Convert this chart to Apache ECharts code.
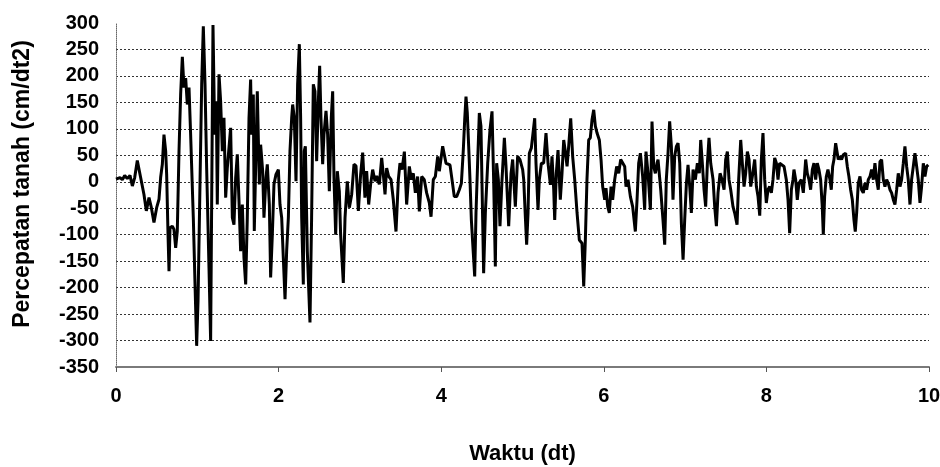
<!DOCTYPE html>
<html>
<head>
<meta charset="utf-8">
<script src="https://cdn.jsdelivr.net/npm/echarts@6/dist/echarts.min.js"></script>
<style>
  html, body { margin: 0; padding: 0; background: #fff; }
  #chart { width: 940px; height: 467px; }
</style>
</head>
<body>
<div id="chart"></div>
<script>
// waktu (dt), one line per stretch of the record
var waktu = [
  0, 0.016, 0.049, 0.078, 0.107, 0.139, 0.172, 0.201, 0.23, 0.262, 0.303, 0.344, 0.373, 0.406, 0.435, 0.467, 0.5, 0.529, 0.549, 0.57, 0.59, 0.611, 0.623, 0.64, 0.652, 0.664, 0.693, 0.713, 0.734, 0.754, 0.775, 0.795, 0.816, 0.836, 0.857, 0.877, 0.898, 0.918, 0.951, 0.972, 0.992, 1.009, 1.033, 1.054, 1.074, 1.095, 1.115, 1.144, 1.164, 1.193, 1.214, 1.234, 1.246, 1.267, 1.287, 1.308, 1.328, 1.349, 1.369, 1.41, 1.431, 1.451, 1.472, 1.492, 1.513, 1.533, 1.554, 1.574, 1.595, 1.615, 1.636, 1.656,
  1.668, 1.689, 1.701, 1.722, 1.738, 1.763, 1.779, 1.804, 1.82, 1.845, 1.861, 1.886, 1.902, 1.923, 1.943, 1.968, 1.997, 2.017, 2.038, 2.058, 2.079, 2.099, 2.12, 2.14, 2.161, 2.173, 2.193, 2.214, 2.234, 2.255, 2.271, 2.284, 2.304, 2.316, 2.329, 2.353, 2.386, 2.406, 2.427, 2.447, 2.468, 2.489, 2.505, 2.521, 2.542, 2.558, 2.583, 2.603, 2.624, 2.648, 2.665, 2.681, 2.702, 2.722, 2.747, 2.763, 2.796, 2.817, 2.845, 2.87, 2.899, 2.927, 2.952, 2.981, 3.009, 3.034, 3.062, 3.083, 3.108, 3.132, 3.157, 3.186, 3.206, 3.239, 3.268, 3.288, 3.309, 3.329,
  3.354, 3.383, 3.411, 3.444, 3.473, 3.493, 3.518, 3.547, 3.575, 3.608, 3.633, 3.657, 3.682, 3.71, 3.731, 3.76, 3.792, 3.821, 3.854, 3.875, 3.903, 3.928, 3.957, 3.977, 3.998, 4.018, 4.039, 4.059, 4.08, 4.108, 4.133, 4.161, 4.19, 4.223, 4.248, 4.272, 4.289, 4.305, 4.321, 4.338, 4.354, 4.371, 4.395, 4.412, 4.428, 4.448, 4.469, 4.489, 4.51, 4.522, 4.543, 4.572, 4.6, 4.625, 4.645, 4.666, 4.682, 4.703, 4.723, 4.748, 4.777, 4.797, 4.83, 4.859, 4.879, 4.912, 4.94, 4.969, 5.002,
  5.015, 5.035, 5.051, 5.068, 5.084, 5.109, 5.129, 5.15, 5.166, 5.191, 5.207, 5.232, 5.26, 5.289, 5.314, 5.343, 5.363, 5.384, 5.396, 5.416, 5.437, 5.465, 5.486, 5.507, 5.527, 5.548, 5.568, 5.593, 5.617, 5.642, 5.671, 5.699, 5.732, 5.753, 5.773, 5.793, 5.814, 5.834, 5.855, 5.876, 5.896, 5.917, 5.945, 5.966, 5.986, 6.011, 6.027, 6.048, 6.068, 6.089, 6.109, 6.134, 6.158, 6.183, 6.208, 6.232, 6.257, 6.273, 6.298, 6.327, 6.355, 6.388, 6.409, 6.429, 6.45, 6.478, 6.503, 6.519, 6.544, 6.573, 6.593, 6.614, 6.634, 6.655,
  6.667, 6.7, 6.728, 6.749, 6.769, 6.79, 6.81, 6.831, 6.851, 6.872, 6.893, 6.913, 6.934, 6.954, 6.975, 6.995, 7.016, 7.036, 7.057, 7.077, 7.098, 7.126, 7.151, 7.175, 7.192, 7.212, 7.233, 7.253, 7.274, 7.294, 7.315, 7.344, 7.364, 7.385, 7.405, 7.43, 7.454, 7.479, 7.499, 7.52, 7.54, 7.561, 7.589, 7.61, 7.639, 7.659, 7.684, 7.704, 7.725, 7.745, 7.766, 7.786, 7.807, 7.827, 7.856, 7.877, 7.897, 7.918, 7.938, 7.958, 7.979, 7.999, 8.02, 8.04, 8.061, 8.081, 8.102, 8.123, 8.143, 8.163, 8.184, 8.217, 8.245, 8.266, 8.286, 8.307, 8.327,
  8.339, 8.36, 8.38, 8.4, 8.429, 8.454, 8.483, 8.503, 8.524, 8.544, 8.565, 8.585, 8.606, 8.626, 8.646, 8.667, 8.687, 8.7, 8.716, 8.737, 8.757, 8.782, 8.798, 8.815, 8.831, 8.852, 8.864, 8.884, 8.905, 8.925, 8.946, 8.975, 8.995, 9.015, 9.036, 9.057, 9.077, 9.093, 9.11, 9.13, 9.151, 9.171, 9.192, 9.212, 9.233, 9.253, 9.274, 9.294, 9.315, 9.335, 9.356, 9.376, 9.397, 9.417, 9.438, 9.458, 9.479, 9.499, 9.52, 9.54, 9.561, 9.581, 9.602, 9.622, 9.643, 9.663, 9.684, 9.704, 9.725, 9.745, 9.766, 9.786, 9.807, 9.827, 9.848, 9.868, 9.889, 9.909, 9.93, 9.95, 9.971, 9.991
];

// percepatan tanah (cm/dt2), same order as waktu
var percepatan = [
  5, 3, 8, 4, 12, 6, 12, -8, 8, 40, 8, -24, -55, -30, -49, -77, -49, -33, 8, 33, 89, 58, 14, -100, -169, -87, -84, -90, -125, -93, 58, 165, 236, 178, 196, 146, 178, 89, -68, -194, -310, -225, -5, 184, 294, 184, 26, -163, -301, 296, 89, 152, -43, 203, 152, 58, 121, -30, 26, 102, -68, -81, 8, 52, -37, -131, -43, -144, -194, -68, 121, 193,
  89, 165, -93, 58, 171, -5, 70, 20, -68, 8, 33, -43, -181, -100, -5, 14, 23, -43, -68, -144, -222, -131, -68, 58, 121, 146, 121, 1, 184, 260, 121, -68, -194, 58, 67, -131, -266, -68, 184, 171, 39, 152, 219, 121, 33, 89, 134, 89, -18, 121, 171, 8, -100, 20, -18, -100, -191, -68, 1, -49, -24, 33, 30, -55, 14, 55, -30, 20, -43, -5, 23, 1, 11, -5, 45, 14, -24, 26,
  10, 4, -34, -94, 4, 35, 23, 57, -43, 29, 4, 16, -21, 10, -56, 10, 4, -21, -40, -66, 4, 10, 48, 20, 23, 67, 70, 35, 32, 32, 4, -28, -28, -15, -3, 60, 117, 161, 130, 67, 4, -72, -135, -179, -59, 35, 130, 105, -72, -173, -59, 35, 98, 133, 4, -160, 35, 4, -84, 4, 83, 29, -84, 16, 42, -47, 48, 42, 23,
  4, -66, -119, -59, 54, 64, 67, 120, 35, -53, 4, 35, 35, 92, 35, -6, 48, -15, -72, 16, 60, -34, 16, 79, 57, 29, 67, 120, 48, 4, -59, -110, -116, -198, -110, 4, 79, 83, 117, 136, 105, 92, 79, 42, -9, -34, -12, -47, -59, -9, -34, 4, 29, 16, 42, 42, 29, -9, 4, -28, -47, -94, -34, 35, 54, 10, -53, 57, 16, -53, 114, 29, 16, 35,
  42, -15, -72, -119, 4, 54, 114, 67, -34, 48, 67, 73, 35, -78, -147, -72, -3, 32, -9, -59, 23, 4, 35, 16, 79, 35, -15, -47, 35, 83, 35, 4, -47, -84, -21, 16, 4, -15, 42, 57, 4, -15, -47, -59, -81, 4, 79, 35, -9, 16, 57, 42, -9, 10, 42, -9, -28, -64, 42, 92, 4, -40, -15, -9, -21, 4, 45, 35, 4, 35, 38, 29, 4, -34, -97, -15, 4,
  23, 4, -34, -3, 4, -21, 42, 16, 4, -15, 23, 35, 4, 35, 23, 4, -47, -100, -28, 10, 23, 4, -15, 29, 42, 73, 76, 42, 48, 42, 51, 54, 29, 10, -15, -34, -72, -94, -59, -3, 10, -15, -21, -3, -15, 4, 10, 23, 4, 35, 4, -15, 38, 42, 4, -9, 4, -3, -15, -21, -34, -43, -15, 16, -9, 4, 35, 67, 29, 4, -43, 4, 29, 54, 29, 4, -40, -9, 35, 10, 29, 32
];

var labelFont = {
  fontFamily: "Liberation Sans, Arial, sans-serif",
  fontWeight: "bold",
  fontSize: 20,
  color: "#000"
};

var seriesData = waktu.map(function (t, i) {
  return [t, percepatan[i]];
});

var myChart = echarts.init(document.getElementById("chart"));

myChart.setOption({
  animation: false,
  backgroundColor: "#fff",
  grid: { left: 116, right: 11, top: 23, bottom: 100, outerBoundsMode: "none" },
  xAxis: {
    type: "value",
    min: 0,
    max: 10,
    interval: 2,
    name: "Waktu (dt)",
    nameLocation: "middle",
    nameGap: 76,
    nameTextStyle: {
      fontFamily: labelFont.fontFamily,
      fontWeight: "bold",
      fontSize: 22,
      color: "#000"
    },
    axisLine: { onZero: false, lineStyle: { color: "#7a7a7a", width: 2 } },
    axisTick: { show: true, length: 5, lineStyle: { color: "#555", width: 1 } },
    axisLabel: Object.assign({ margin: 19 }, labelFont),
    splitLine: { show: false }
  },
  yAxis: {
    type: "value",
    min: -350,
    max: 300,
    interval: 50,
    name: "Percepatan tanah (cm/dt2)",
    nameLocation: "middle",
    nameGap: 82,
    nameTextStyle: {
      fontFamily: labelFont.fontFamily,
      fontWeight: "bold",
      fontSize: 23,
      color: "#000",
      padding: [0, 0, 0, 22]
    },
    axisLine: { show: true, lineStyle: { color: "#666", width: 1, type: "dotted" } },
    axisTick: { show: false },
    axisLabel: Object.assign({ margin: 17 }, labelFont),
    splitLine: {
      show: true,
      showMinLine: false,
      showMaxLine: false,
      lineStyle: { color: "#333", width: 1, type: [2, 2] }
    }
  },
  series: [
    {
      type: "line",
      data: seriesData,
      symbol: "none",
      lineStyle: { color: "#000", width: 3 },
      emphasis: { disabled: true }
    }
  ]
});
</script>
</body>
</html>
